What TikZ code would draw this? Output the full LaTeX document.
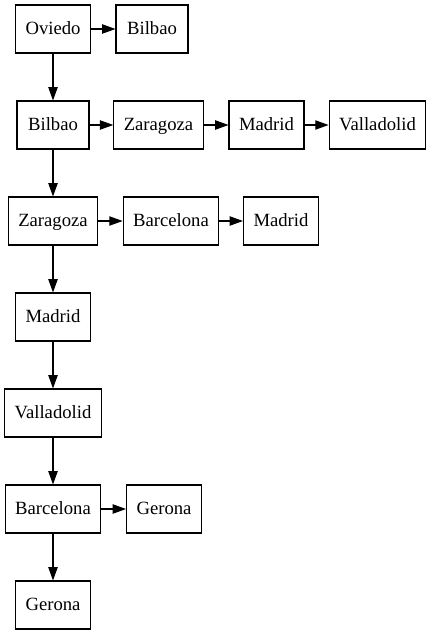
\documentclass[tikz,border=0pt]{standalone}
\usepackage{fontspec}
\setmainfont{Liberation Serif}
\usepackage{tikz}
\usetikzlibrary{arrows.meta}
\tikzset{
  citybox/.style={draw=black,line width=0.8pt,font=\fontsize{14}{16}\selectfont,minimum width=54pt,minimum height=36pt,inner xsep=7.5pt,text height=10.5pt,text depth=2.5pt},
  cityedge/.style={-{Triangle[length=10pt,width=7pt]},draw=black,line width=0.8pt}
}
\begin{document}
\begin{tikzpicture}[x=0.75pt,y=-0.75pt]
\useasboundingbox (0,0) rectangle (431,635);
% left column
\node[citybox] (ovi) at (53,29) {Oviedo};
\node[citybox] (bil) at (53,125) {Bilbao};
\node[citybox] (zar) at (53,221) {Zaragoza};
\node[citybox] (mad) at (53,317) {Madrid};
\node[citybox] (val) at (53,413) {Valladolid};
\node[citybox] (bar) at (53,509) {Barcelona};
\node[citybox] (ger) at (53,605) {Gerona};
% rows
\node[citybox] (ovibil) at (152,29) {Bilbao};
\node[citybox] (bilzar) at (158.5,125) {Zaragoza};
\node[citybox] (bilmad) at (266.5,125) {Madrid};
\node[citybox] (bilval) at (377.5,125) {Valladolid};
\node[citybox] (zarbar) at (171,221) {Barcelona};
\node[citybox] (zarmad) at (281,221) {Madrid};
\node[citybox] (barger) at (164,509) {Gerona};
\foreach \a/\b in {ovi/bil,bil/zar,zar/mad,mad/val,val/bar,bar/ger}{\draw[cityedge] (\a.south) -- (\b.north);}
\foreach \a/\b in {ovi/ovibil,bil/bilzar,bilzar/bilmad,bilmad/bilval,zar/zarbar,zarbar/zarmad,bar/barger}{\draw[cityedge] (\a) -- (\b);}
\end{tikzpicture}
\end{document}
